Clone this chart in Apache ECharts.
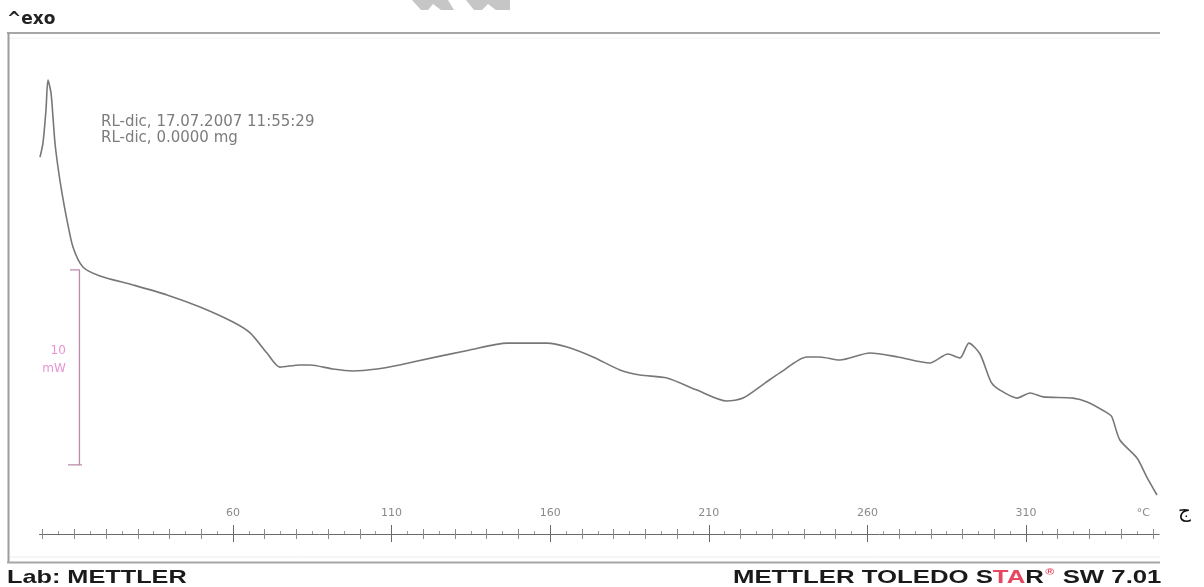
<!DOCTYPE html>
<html>
<head>
<meta charset="utf-8">
<title>DSC curve</title>
<script src="https://cdn.jsdelivr.net/npm/echarts@6/dist/echarts.min.js"></script>
<style>
  html, body { margin: 0; padding: 0; background: #ffffff; }
  #chart { width: 1204px; height: 587px; }
</style>
</head>
<body>
<div id="chart"></div>
<script>
// DSC trace: temperature (°C) and heat flow (mW, arbitrary offset)
const tempC = [
  -0.85, 0.09, 1.04, 1.67, 2.62, 3.25, 3.88, 4.82, 6.08, 7.66, 9.55, 12.7,
  18.06, 28.5, 39.2, 49.6, 60.0, 65.4, 70.7, 74.8, 81.1, 84.3, 91.5, 97.8,
  105.4, 112.6, 116.7, 134.7, 146.4, 159.0, 165.3, 173.5, 182.0, 188.3, 196.8,
  206.3, 215.7, 220.8, 227.7, 232.4, 240.9, 245.0, 251.3, 260.8, 269.6, 279.7,
  285.4, 289.2, 292.0, 295.5, 299.0, 301.8, 307.2, 311.3, 315.4, 324.8, 329.3,
  335.6, 337.1, 339.6, 345.0, 348.1, 351.3
];
const heatFlow = [
  19.33, 20.05, 21.74, 23.28, 22.62, 21.38, 20.05, 18.82, 17.49, 16.10, 14.72, 13.69,
  13.23, 12.77, 12.26, 11.64, 10.87, 10.31, 9.28, 8.56, 8.67, 8.67, 8.46, 8.36,
  8.46, 8.67, 8.82, 9.44, 9.79, 9.79, 9.59, 9.08, 8.41, 8.15, 8.00,
  7.38, 6.82, 6.97, 7.74, 8.26, 9.08, 9.08, 8.92, 9.28, 9.08, 8.77,
  9.23, 9.03, 9.79, 9.23, 7.79, 7.38, 6.97, 7.23, 7.03, 6.97, 6.77,
  6.21, 6.00, 4.82, 3.90, 2.92, 2.00
];

// temperature axis labels and tick positions
const tickLabels = [60, 110, 160, 210, 260, 310];
const unitLabelAt = 347;
const unitLabel = '°C';
const majorTicks = [];
for (let t = 0; t <= 350; t += 10) majorTicks.push(t);
const minorTicks = [];
for (let t = 5; t <= 345; t += 10) minorTicks.push(t);

// 10 mW scale bracket
const scaleBarT  = [8.6, 11.6, 11.6, 8.0, 12.4];
const scaleBarMW = [13.54, 13.54, 3.54, 3.54, 3.54];
const scaleLabelT = 7.3;
const scaleLabelMW = 8.92;
const scaleLabelText = '10\nmW';

const chart = echarts.init(document.getElementById('chart'), null, { renderer: 'canvas' });

const X_MIN = -1, X_MAX = 352;
function tickAxis(values, inside, len, color) {
  return {
    type: 'value', min: X_MIN, max: X_MAX, position: 'bottom',
    axisLine: { show: false },
    axisTick: { show: true, customValues: values, inside: inside, length: len,
                lineStyle: { color: color, width: 1 } },
    axisLabel: { show: false },
    splitLine: { show: false }
  };
}

const option = {
  animation: false,
  backgroundColor: '#ffffff',
  grid: { left: 39.5, top: 46.5, width: 1119.7, height: 487.5, outerBoundsMode: 'none' },
  xAxis: [
    {
      type: 'value', min: X_MIN, max: X_MAX, position: 'bottom',
      axisLine: { show: true, lineStyle: { color: '#6a6a6a', width: 1 } },
      axisTick: { show: true, customValues: majorTicks, inside: false, length: 5,
                  lineStyle: { color: '#8a8a8a', width: 1 } },
      axisLabel: {
        show: true, inside: true, margin: 15,
        customValues: tickLabels.concat([unitLabelAt]),
        formatter: v => (v === unitLabelAt ? unitLabel : String(v)),
        color: '#8a8a8a', fontSize: 11, fontFamily: 'DejaVu Sans'
      },
      splitLine: { show: false }
    },
    tickAxis(majorTicks, true, 5, '#8a8a8a'),
    tickAxis(tickLabels, true, 9, '#6a6a6a'),
    tickAxis(tickLabels, false, 8, '#6a6a6a'),
    tickAxis(minorTicks, true, 3, '#9a9a9a')
  ],
  yAxis: { type: 'value', min: 0, max: 25, show: false },
  series: [
    {
      name: 'DSC',
      type: 'line',
      xAxisIndex: 0,
      data: tempC.map((t, i) => [t, heatFlow[i]]),
      showSymbol: false,
      smooth: 0.25,
      lineStyle: { color: '#777777', width: 1.6 },
      z: 3
    },
    {
      name: 'scale',
      type: 'line',
      xAxisIndex: 0,
      data: scaleBarT.map((t, i) => [t, scaleBarMW[i]]),
      showSymbol: false,
      lineStyle: { color: '#b98ba8', width: 1.3 },
      z: 2
    },
    {
      name: 'scaleLabel',
      type: 'scatter',
      xAxisIndex: 0,
      data: [[scaleLabelT, scaleLabelMW]],
      symbolSize: 0,
      label: {
        show: true, position: 'left', distance: 0, align: 'right',
        formatter: scaleLabelText, color: '#e07ac8', fontSize: 12,
        lineHeight: 18, fontFamily: 'DejaVu Sans'
      },
      silent: true
    }
  ],
  graphic: [
    // frame
    { type: 'line', shape: { x1: 7, y1: 33, x2: 1160, y2: 33 }, style: { stroke: '#a6a6a6', lineWidth: 2 } },
    { type: 'line', shape: { x1: 10, y1: 38, x2: 1160, y2: 38 }, style: { stroke: '#f0f0f0', lineWidth: 1 } },
    { type: 'line', shape: { x1: 8.5, y1: 33, x2: 8.5, y2: 563 }, style: { stroke: '#9c9c9c', lineWidth: 2 } },
    { type: 'line', shape: { x1: 10, y1: 557, x2: 1160, y2: 557 }, style: { stroke: '#ececec', lineWidth: 1 } },
    { type: 'line', shape: { x1: 7, y1: 562.5, x2: 1160, y2: 562.5 }, style: { stroke: '#a6a6a6', lineWidth: 2 } },
    // faint marks at the top edge
    { type: 'polygon', shape: { points: [[412, 0], [448, 0], [454, 10], [441, 10], [433, 4], [428, 10], [421, 10]] },
      style: { fill: '#c6c6c6' } },
    { type: 'polygon', shape: { points: [[466, 0], [510, 0], [510, 10], [496, 10], [488, 4], [482, 10], [474, 10]] },
      style: { fill: '#c6c6c6' } },
    // header
    { type: 'text', left: 7, top: 11, style: { text: '^exo', font: 'bold 17px "DejaVu Sans"', fill: '#222222' } },
    { type: 'text', left: 101, top: 114,
      style: { text: 'RL-dic, 17.07.2007 11:55:29\nRL-dic, 0.0000 mg', font: '15px "DejaVu Sans"',
               lineHeight: 16, fill: '#7c7c7c' } },
    // footer
    { type: 'text', x: 7, y: 568, scaleX: 1.33,
      style: { text: 'Lab: METTLER', font: 'bold 19px "Liberation Sans"', fill: '#1a1a1a' } },
    { type: 'text', x: 733, y: 568, scaleX: 1.355,
      style: {
        text: '{b|METTLER TOLEDO S}{r|TA}{b|R}{s|®}{b| SW 7.01}',
        rich: {
          b: { font: 'bold 19px "Liberation Sans"', fill: '#1a1a1a' },
          r: { font: 'bold 19px "Liberation Sans"', fill: '#e8465e' },
          s: { font: 'bold 9px "Liberation Sans"', fill: '#e8465e', verticalAlign: 'top', padding: [0, 1, 8, 1] }
        }
      } },
    { type: 'text', x: 1178, y: 502, style: { text: 'ج', font: '20px "DejaVu Sans"', fill: '#111111' } }
  ]
};

chart.setOption(option);
</script>
</body>
</html>
